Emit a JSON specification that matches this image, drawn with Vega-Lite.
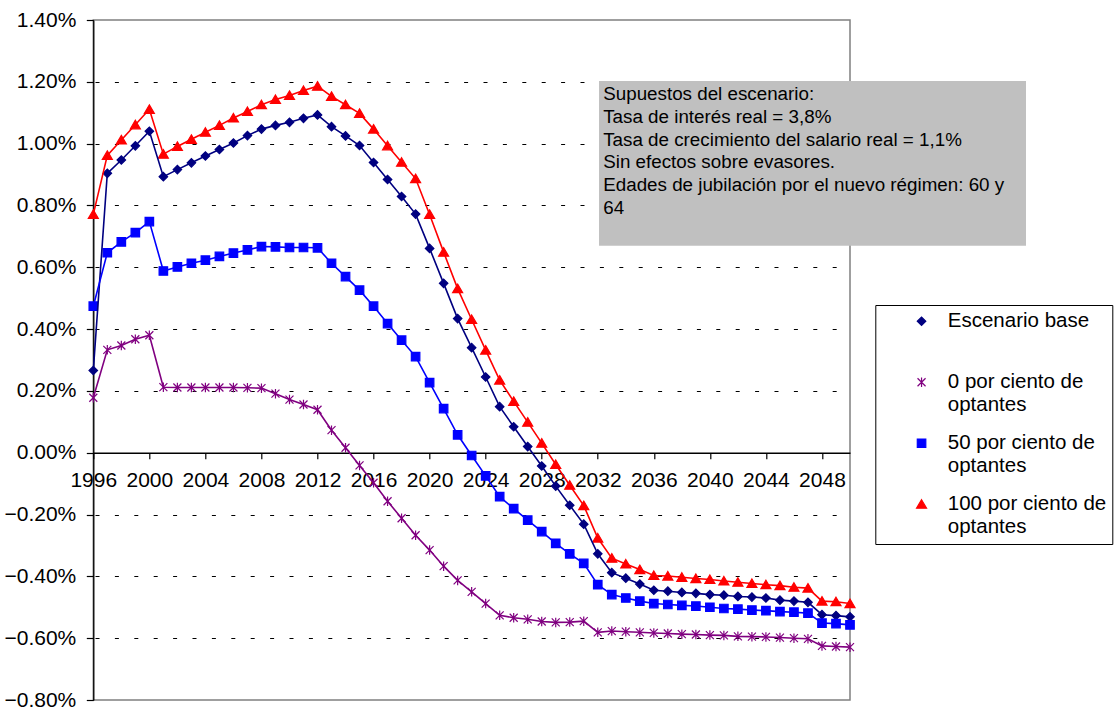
{
  "$schema": "https://vega.github.io/schema/vega-lite/v6.json",
  "width": 756.7,
  "height": 680,
  "autosize": {"type": "none"},
  "padding": {"left": 93.3, "top": 20, "right": 270, "bottom": 9},
  "background": "white",
  "config": {
    "font": "Liberation Sans",
    "view": {"stroke": "#808080", "strokeWidth": 1.5}
  },
  "layer": [
    {
      "data": {
        "values": [
          {"anio": 1996, "Escenario base": 0.266, "0 por ciento de optantes": 0.178, "50 por ciento de optantes": 0.474, "100 por ciento de optantes": 0.771},
          {"anio": 1997, "Escenario base": 0.904, "0 por ciento de optantes": 0.333, "50 por ciento de optantes": 0.647, "100 por ciento de optantes": 0.962},
          {"anio": 1998, "Escenario base": 0.947, "0 por ciento de optantes": 0.347, "50 por ciento de optantes": 0.682, "100 por ciento de optantes": 1.012},
          {"anio": 1999, "Escenario base": 0.993, "0 por ciento de optantes": 0.367, "50 por ciento de optantes": 0.712, "100 por ciento de optantes": 1.061},
          {"anio": 2000, "Escenario base": 1.040, "0 por ciento de optantes": 0.380, "50 por ciento de optantes": 0.748, "100 por ciento de optantes": 1.111},
          {"anio": 2001, "Escenario base": 0.893, "0 por ciento de optantes": 0.212, "50 por ciento de optantes": 0.588, "100 por ciento de optantes": 0.966},
          {"anio": 2002, "Escenario base": 0.916, "0 por ciento de optantes": 0.211, "50 por ciento de optantes": 0.601, "100 por ciento de optantes": 0.991},
          {"anio": 2003, "Escenario base": 0.938, "0 por ciento de optantes": 0.211, "50 por ciento de optantes": 0.613, "100 por ciento de optantes": 1.014},
          {"anio": 2004, "Escenario base": 0.960, "0 por ciento de optantes": 0.211, "50 por ciento de optantes": 0.623, "100 por ciento de optantes": 1.037},
          {"anio": 2005, "Escenario base": 0.981, "0 por ciento de optantes": 0.211, "50 por ciento de optantes": 0.635, "100 por ciento de optantes": 1.059},
          {"anio": 2006, "Escenario base": 1.002, "0 por ciento de optantes": 0.211, "50 por ciento de optantes": 0.646, "100 por ciento de optantes": 1.083},
          {"anio": 2007, "Escenario base": 1.026, "0 por ciento de optantes": 0.210, "50 por ciento de optantes": 0.656, "100 por ciento de optantes": 1.104},
          {"anio": 2008, "Escenario base": 1.047, "0 por ciento de optantes": 0.209, "50 por ciento de optantes": 0.667, "100 por ciento de optantes": 1.126},
          {"anio": 2009, "Escenario base": 1.059, "0 por ciento de optantes": 0.191, "50 por ciento de optantes": 0.666, "100 por ciento de optantes": 1.143},
          {"anio": 2010, "Escenario base": 1.069, "0 por ciento de optantes": 0.172, "50 por ciento de optantes": 0.664, "100 por ciento de optantes": 1.156},
          {"anio": 2011, "Escenario base": 1.082, "0 por ciento de optantes": 0.156, "50 por ciento de optantes": 0.664, "100 por ciento de optantes": 1.172},
          {"anio": 2012, "Escenario base": 1.093, "0 por ciento de optantes": 0.139, "50 por ciento de optantes": 0.663, "100 por ciento de optantes": 1.186},
          {"anio": 2013, "Escenario base": 1.055, "0 por ciento de optantes": 0.073, "50 por ciento de optantes": 0.613, "100 por ciento de optantes": 1.153},
          {"anio": 2014, "Escenario base": 1.025, "0 por ciento de optantes": 0.016, "50 por ciento de optantes": 0.570, "100 por ciento de optantes": 1.126},
          {"anio": 2015, "Escenario base": 0.994, "0 por ciento de optantes": -0.041, "50 por ciento de optantes": 0.526, "100 por ciento de optantes": 1.098},
          {"anio": 2016, "Escenario base": 0.939, "0 por ciento de optantes": -0.097, "50 por ciento de optantes": 0.474, "100 por ciento de optantes": 1.047},
          {"anio": 2017, "Escenario base": 0.884, "0 por ciento de optantes": -0.157, "50 por ciento de optantes": 0.418, "100 por ciento de optantes": 0.993},
          {"anio": 2018, "Escenario base": 0.829, "0 por ciento de optantes": -0.212, "50 por ciento de optantes": 0.364, "100 por ciento de optantes": 0.940},
          {"anio": 2019, "Escenario base": 0.772, "0 por ciento de optantes": -0.267, "50 por ciento de optantes": 0.311, "100 por ciento de optantes": 0.887},
          {"anio": 2020, "Escenario base": 0.661, "0 por ciento de optantes": -0.315, "50 por ciento de optantes": 0.227, "100 por ciento de optantes": 0.771},
          {"anio": 2021, "Escenario base": 0.548, "0 por ciento de optantes": -0.367, "50 por ciento de optantes": 0.143, "100 por ciento de optantes": 0.649},
          {"anio": 2022, "Escenario base": 0.434, "0 por ciento de optantes": -0.413, "50 por ciento de optantes": 0.058, "100 por ciento de optantes": 0.531},
          {"anio": 2023, "Escenario base": 0.340, "0 por ciento de optantes": -0.450, "50 por ciento de optantes": -0.009, "100 por ciento de optantes": 0.431},
          {"anio": 2024, "Escenario base": 0.245, "0 por ciento de optantes": -0.488, "50 por ciento de optantes": -0.075, "100 por ciento de optantes": 0.332},
          {"anio": 2025, "Escenario base": 0.149, "0 por ciento de optantes": -0.526, "50 por ciento de optantes": -0.142, "100 por ciento de optantes": 0.235},
          {"anio": 2026, "Escenario base": 0.084, "0 por ciento de optantes": -0.534, "50 por ciento de optantes": -0.181, "100 por ciento de optantes": 0.166},
          {"anio": 2027, "Escenario base": 0.020, "0 por ciento de optantes": -0.539, "50 por ciento de optantes": -0.218, "100 por ciento de optantes": 0.099},
          {"anio": 2028, "Escenario base": -0.043, "0 por ciento de optantes": -0.546, "50 por ciento de optantes": -0.255, "100 por ciento de optantes": 0.031},
          {"anio": 2029, "Escenario base": -0.108, "0 por ciento de optantes": -0.549, "50 por ciento de optantes": -0.293, "100 por ciento de optantes": -0.038},
          {"anio": 2030, "Escenario base": -0.170, "0 por ciento de optantes": -0.548, "50 por ciento de optantes": -0.327, "100 por ciento de optantes": -0.105},
          {"anio": 2031, "Escenario base": -0.231, "0 por ciento de optantes": -0.545, "50 por ciento de optantes": -0.358, "100 por ciento de optantes": -0.171},
          {"anio": 2032, "Escenario base": -0.327, "0 por ciento de optantes": -0.581, "50 por ciento de optantes": -0.427, "100 por ciento de optantes": -0.276},
          {"anio": 2033, "Escenario base": -0.388, "0 por ciento de optantes": -0.577, "50 por ciento de optantes": -0.459, "100 por ciento de optantes": -0.341},
          {"anio": 2034, "Escenario base": -0.406, "0 por ciento de optantes": -0.579, "50 por ciento de optantes": -0.470, "100 por ciento de optantes": -0.360},
          {"anio": 2035, "Escenario base": -0.425, "0 por ciento de optantes": -0.581, "50 por ciento de optantes": -0.480, "100 por ciento de optantes": -0.378},
          {"anio": 2036, "Escenario base": -0.445, "0 por ciento de optantes": -0.583, "50 por ciento de optantes": -0.488, "100 por ciento de optantes": -0.397},
          {"anio": 2037, "Escenario base": -0.448, "0 por ciento de optantes": -0.585, "50 por ciento de optantes": -0.491, "100 por ciento de optantes": -0.399},
          {"anio": 2038, "Escenario base": -0.452, "0 por ciento de optantes": -0.587, "50 por ciento de optantes": -0.494, "100 por ciento de optantes": -0.403},
          {"anio": 2039, "Escenario base": -0.455, "0 por ciento de optantes": -0.588, "50 por ciento de optantes": -0.496, "100 por ciento de optantes": -0.407},
          {"anio": 2040, "Escenario base": -0.459, "0 por ciento de optantes": -0.590, "50 por ciento de optantes": -0.500, "100 por ciento de optantes": -0.410},
          {"anio": 2041, "Escenario base": -0.461, "0 por ciento de optantes": -0.591, "50 por ciento de optantes": -0.504, "100 por ciento de optantes": -0.415},
          {"anio": 2042, "Escenario base": -0.465, "0 por ciento de optantes": -0.594, "50 por ciento de optantes": -0.506, "100 por ciento de optantes": -0.419},
          {"anio": 2043, "Escenario base": -0.467, "0 por ciento de optantes": -0.595, "50 por ciento de optantes": -0.509, "100 por ciento de optantes": -0.423},
          {"anio": 2044, "Escenario base": -0.470, "0 por ciento de optantes": -0.596, "50 por ciento de optantes": -0.511, "100 por ciento de optantes": -0.427},
          {"anio": 2045, "Escenario base": -0.477, "0 por ciento de optantes": -0.598, "50 por ciento de optantes": -0.514, "100 por ciento de optantes": -0.430},
          {"anio": 2046, "Escenario base": -0.480, "0 por ciento de optantes": -0.600, "50 por ciento de optantes": -0.516, "100 por ciento de optantes": -0.435},
          {"anio": 2047, "Escenario base": -0.484, "0 por ciento de optantes": -0.602, "50 por ciento de optantes": -0.519, "100 por ciento de optantes": -0.438},
          {"anio": 2048, "Escenario base": -0.524, "0 por ciento de optantes": -0.625, "50 por ciento de optantes": -0.551, "100 por ciento de optantes": -0.480},
          {"anio": 2049, "Escenario base": -0.527, "0 por ciento de optantes": -0.627, "50 por ciento de optantes": -0.553, "100 por ciento de optantes": -0.482},
          {"anio": 2050, "Escenario base": -0.531, "0 por ciento de optantes": -0.629, "50 por ciento de optantes": -0.557, "100 por ciento de optantes": -0.488}
        ]
      },
      "transform": [
        {"fold": ["Escenario base", "0 por ciento de optantes", "50 por ciento de optantes", "100 por ciento de optantes"], "as": ["serie", "valor"]}
      ],
      "encoding": {
        "x": {
          "field": "anio",
          "type": "quantitative",
          "scale": {"domain": [1996, 2050], "nice": false, "zero": false},
          "axis": {
            "title": null,
            "orient": "bottom",
            "offset": -247.27,
            "values": [1996,1997,1998,1999,2000,2001,2002,2003,2004,2005,2006,2007,2008,2009,2010,2011,2012,2013,2014,2015,2016,2017,2018,2019,2020,2021,2022,2023,2024,2025,2026,2027,2028,2029,2030,2031,2032,2033,2034,2035,2036,2037,2038,2039,2040,2041,2042,2043,2044,2045,2046,2047,2048,2049,2050],
            "labelExpr": "(datum.value - 1996) % 4 == 0 ? '' + datum.value : ''",
            "labelFlush": false,
            "labelOverlap": false,
            "labelBound": false,
            "labelFont": "Liberation Sans",
            "labelFontSize": 21,
            "labelColor": "black",
            "labelPadding": 11,
            "labelAngle": 0,
            "grid": false,
            "domainColor": "black",
            "domainWidth": 1.3,
            "ticks": true,
            "tickColor": "black",
            "tickWidth": 1.2,
            "tickSize": 6,
            "tickOpacity": 1
          }
        },
        "y": {
          "field": "valor",
          "type": "quantitative",
          "scale": {"domain": [-0.8, 1.4], "nice": false, "zero": false},
          "axis": {
            "title": null,
            "values": [-0.8, -0.6, -0.4, -0.2, 0, 0.2, 0.4, 0.6, 0.8, 1.0, 1.2, 1.4],
            "labelExpr": "format(datum.value, '.2f') + '%'",
            "labelFont": "Liberation Sans",
            "labelFontSize": 21,
            "labelColor": "black",
            "labelPadding": 10.5,
            "labelFlush": false,
            "labelOverlap": false,
            "domainColor": "black",
            "domainWidth": 1.3,
            "tickColor": "black",
            "tickWidth": 1.2,
            "tickSize": 7,
            "grid": true,
            "gridColor": "black",
            "gridWidth": 1,
            "gridDash": [4, 15.4],
            "gridDashOffset": -1.7,
            "gridOpacity": {"condition": {"test": "abs(datum.value) < 0.001 || datum.value < -0.79 || datum.value > 1.39", "value": 0}, "value": 1}
          }
        }
      },
      "layer": [
        {
          "mark": {"type": "point", "filled": true, "size": 100, "strokeWidth": 1.2, "opacity": 1, "clip": false},
          "encoding": {
            "fill": {
              "field": "serie",
              "type": "nominal",
              "scale": {
                "domain": ["Escenario base", "0 por ciento de optantes", "50 por ciento de optantes", "100 por ciento de optantes"],
                "range": ["#000080", "#800080", "#0000FF", "#FF0000"]
              },
              "legend": {
                "title": null,
                "orient": "none",
                "legendX": 782,
                "legendY": 285,
                "padding": 6,
                "strokeColor": "black",
                "fillColor": "white",
                "symbolSize": 100,
                "symbolStrokeWidth": 1.2,
                "symbolOffset": 30,
                "labelFont": "Liberation Sans",
                "labelFontSize": 20.5,
                "labelColor": "black",
                "labelLimit": 400,
                "labelOffset": 16,
                "rowPadding": 17,
                "gridAlign": "all",
                "labelExpr": "indexof(datum.label, ' de optantes') > 0 ? [replace(datum.label, ' optantes', ''), 'optantes'] : datum.label"
              }
            },
            "stroke": {
              "field": "serie",
              "type": "nominal",
              "scale": {
                "domain": ["Escenario base", "0 por ciento de optantes", "50 por ciento de optantes", "100 por ciento de optantes"],
                "range": ["#000080", "#800080", "#0000FF", "#FF0000"]
              }
            },
            "shape": {
              "field": "serie",
              "type": "nominal",
              "scale": {
                "domain": ["Escenario base", "0 por ciento de optantes", "50 por ciento de optantes", "100 por ciento de optantes"],
                "range": [
                  "M-0.85,0L0,-0.85L0.85,0L0,0.85Z",
                  "M-0.8,-0.8L0.8,0.8M-0.8,0.8L0.8,-0.8M0,-0.95L0,0.95",
                  "M-0.85,-0.85L0.85,-0.85L0.85,0.85L-0.85,0.85Z",
                  "M0,-0.9L1,0.8L-1,0.8Z"
                ]
              }
            }
          }
        },
        {
          "mark": {"type": "line", "strokeWidth": 1.6, "clip": false},
          "encoding": {
            "stroke": {
              "field": "serie",
              "type": "nominal",
              "scale": {
                "domain": ["Escenario base", "0 por ciento de optantes", "50 por ciento de optantes", "100 por ciento de optantes"],
                "range": ["#000080", "#800080", "#0000FF", "#FF0000"]
              }
            }
          }
        }
      ]
    },
    {
      "data": {"values": [{}]},
      "mark": {"type": "rect", "color": "#C0C0C0", "clip": false},
      "encoding": {
        "x": {"datum": 2032.09, "type": "quantitative"},
        "x2": {"datum": 2062.56},
        "y": {"datum": 1.2027, "type": "quantitative"},
        "y2": {"datum": 0.6699}
      }
    },
    {
      "data": {"values": [{}]},
      "mark": {
        "type": "text",
        "clip": false,
        "align": "left",
        "baseline": "alphabetic",
        "font": "Liberation Sans",
        "fontSize": 18.8,
        "lineHeight": 22.8,
        "color": "black",
        "text": [
          "Supuestos del escenario:",
          "Tasa de interés real  = 3,8%",
          "Tasa de crecimiento del salario real = 1,1%",
          "Sin efectos sobre evasores.",
          "Edades de jubilación por el nuevo régimen: 60 y",
          "64"
        ]
      },
      "encoding": {
        "x": {"datum": 2032.39, "type": "quantitative"},
        "y": {"datum": 1.141, "type": "quantitative"}
      }
    }
  ]
}
